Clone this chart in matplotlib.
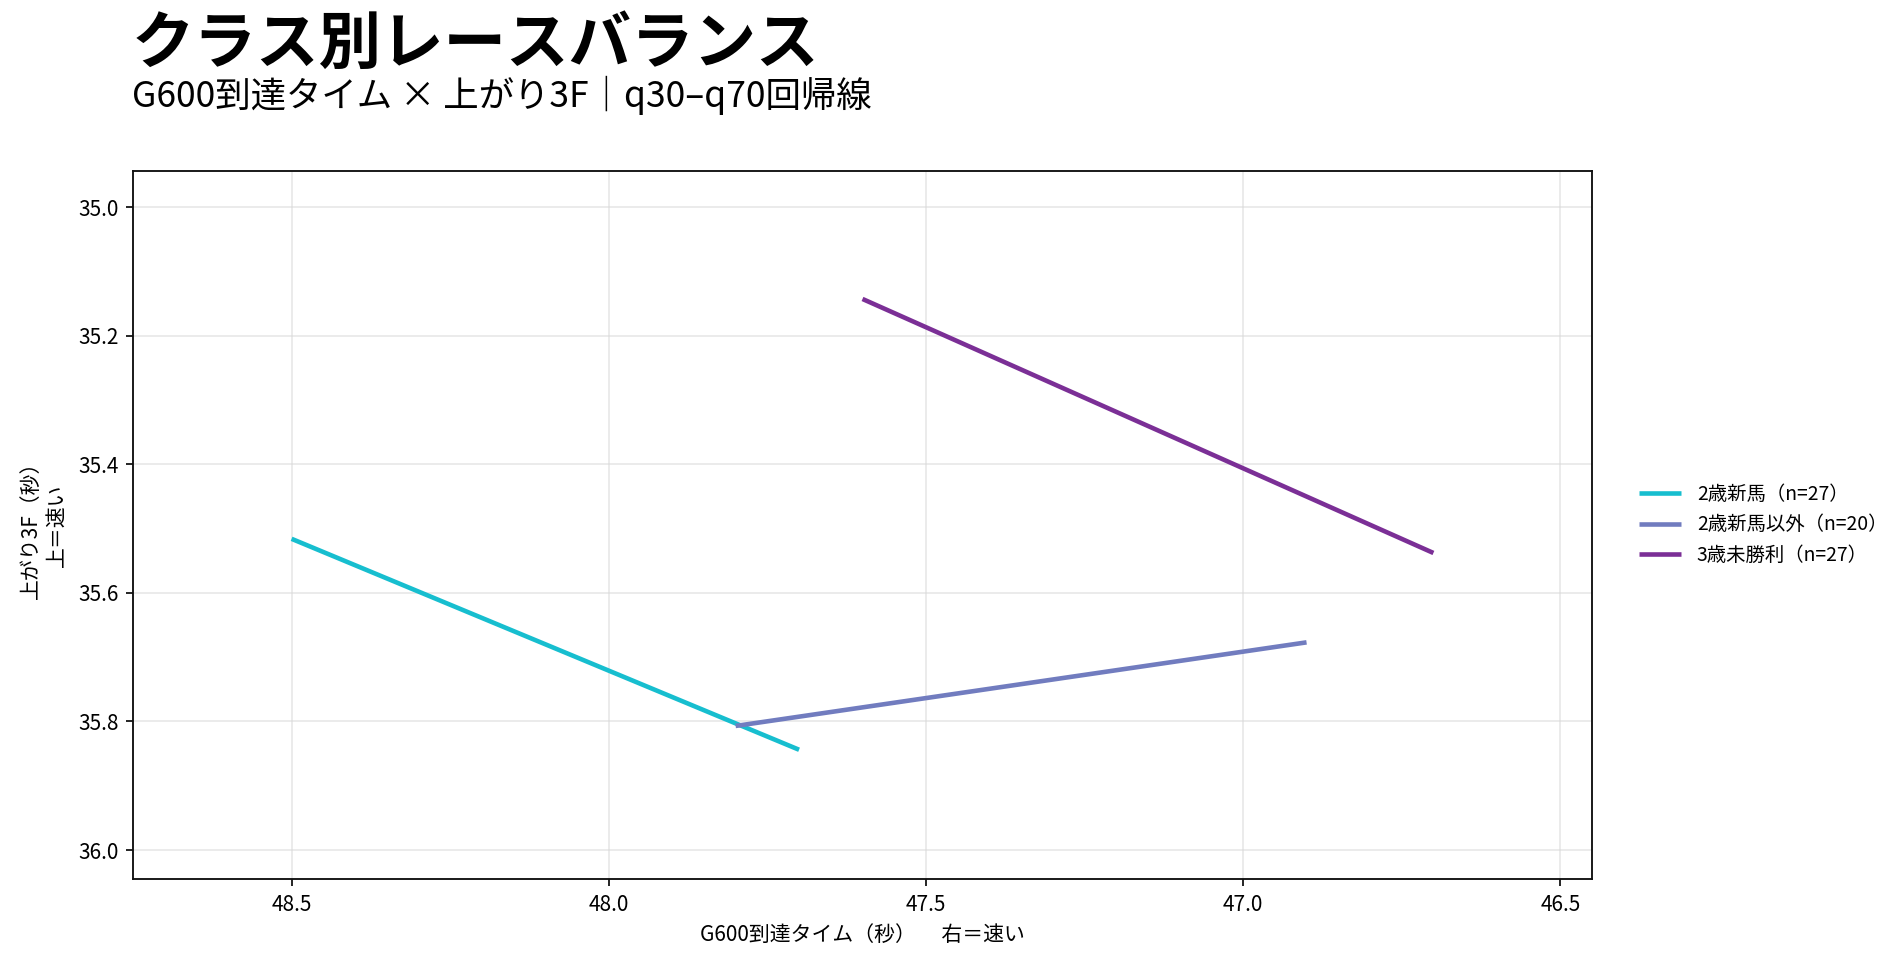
import matplotlib
matplotlib.use("Agg")
import matplotlib.pyplot as plt

plt.rcParams['font.family'] = ['Noto Sans CJK JP', 'DejaVu Sans']

# ---- data ----
class_names = ["2歳新馬", "2歳新馬以外", "3歳未勝利"]
class_n = [27, 20, 27]
class_colors = ["#17becf", "#717cbf", "#7b2f96"]
# regression segments: (x0, x1), (y0, y1)
seg_x = [[48.50, 47.70], [47.80, 46.90], [47.60, 46.70]]
seg_y = [[35.516, 35.844], [35.807, 35.677], [35.143, 35.538]]

x_ticks = [48.5, 48.0, 47.5, 47.0, 46.5]
y_ticks = [35.0, 35.2, 35.4, 35.6, 35.8, 36.0]

title = "クラス別レースバランス"
subtitle = "G600到達タイム × 上がり3F｜q30–q70回帰線"
xlabel = "G600到達タイム（秒）　 右＝速い"
ylabel = "上がり3F（秒）\n上＝速い"

fig = plt.figure(figsize=(1898/150, 965/150), dpi=150)
ax = fig.add_axes([133/1898, 1-879/965, (1592-133)/1898, (879-171)/965])

for name, n, c, xs, ys in zip(class_names, class_n, class_colors, seg_x, seg_y):
    ax.plot(xs, ys, color=c, lw=2.2, label=f"{name}（n={n}）", solid_capstyle='butt')

ax.set_xlim(48.75, 46.45)
ax.set_ylim(36.045, 34.944)
ax.set_xticks(x_ticks)
ax.set_xticklabels([f"{v:.1f}" for v in x_ticks])
ax.set_yticks(y_ticks)
ax.set_yticklabels([f"{v:.1f}" for v in y_ticks])
ax.tick_params(labelsize=10)
ax.grid(True, color="#d9d9d9", alpha=0.6, lw=0.8)
ax.set_axisbelow(True)
for s in ax.spines.values():
    s.set_color("#111111")
    s.set_linewidth(0.9)

ax.set_xlabel(xlabel, fontsize=10)
ax.set_ylabel(ylabel, fontsize=10, labelpad=5)

ax.legend(loc="center left", bbox_to_anchor=(1.02, 0.5), frameon=False,
          fontsize=9.3, handlelength=2.2)

fig.text(132/1898, 1-63/965, title, fontsize=30, fontweight="bold", ha="left", va="baseline")
fig.text(132/1898, 1-107/965, subtitle, fontsize=17, ha="left", va="baseline")

fig.savefig("out.png", dpi=150)
